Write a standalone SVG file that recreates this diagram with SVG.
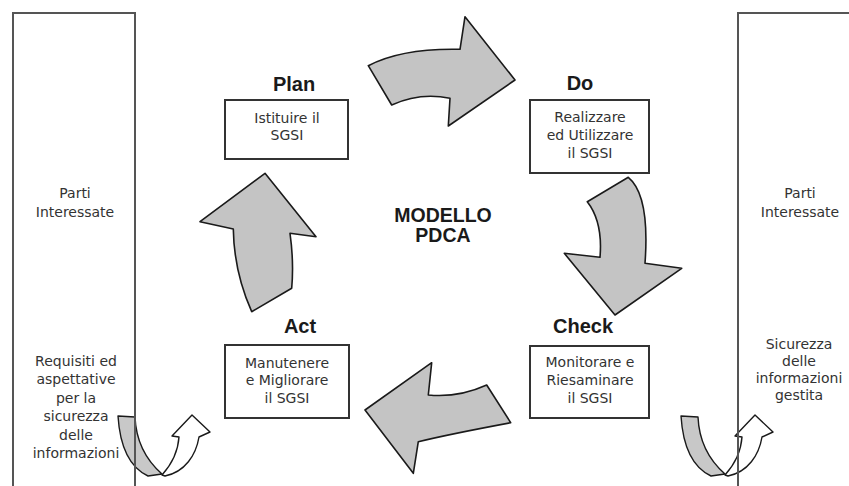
<svg xmlns="http://www.w3.org/2000/svg" width="849" height="486" viewBox="0 0 849 486">
<style>
.bg{fill:#ffffff}
.side{fill:none;stroke:#555;stroke-width:2}
.box{fill:#fff;stroke:#333;stroke-width:2}
.txt{font-family:"DejaVu Sans","Liberation Sans",sans-serif;font-size:14px;fill:#333;text-anchor:middle}
.lbl{font-family:"Liberation Sans",Arial,sans-serif;font-size:20px;font-weight:bold;fill:#1a1a1a;text-anchor:middle}
.big{fill:#c4c4c4;stroke:#1a1a1a;stroke-width:1.6;stroke-linejoin:round}
.ug{fill:#c8c8c8;stroke:#1a1a1a;stroke-width:1.4;stroke-linejoin:round}
.uw{fill:#fff;stroke:#1a1a1a;stroke-width:1.4;stroke-linejoin:round}
</style>
<defs>
<g id="uturn">
<path class="ug" d="M118,416 L135,417 C136,440 146,460 162,474 L148,476 C131,468 120,448 118,416 Z"/>
<path class="uw" d="M162,475 C171,465 178,452 179,437 L172,436 L192,415 L210,432 L199,437 C196,455 185,472 165,476 Z"/>
</g>
</defs>
<rect class="bg" x="0" y="0" width="849" height="486"/>
<g id="connectors">
<path class="big" d="M368.3,65.7 Q402,48 460,49.3 L465,16.7 L515,80 L448.3,126 L450,98.3 Q420,92 391.7,105 Z"/>
<path class="big" d="M628.3,177.3 Q650,195 645,263.3 L681.7,268.3 L615,315 L564.3,253.3 L600,257.3 Q603,222 587.3,201.7 Z"/>
<path class="big" d="M486.7,385 Q458,398 428.3,395 L431.7,362.7 L365,410 L413.3,473.3 L418.3,441.7 Q450,434 510.7,422.7 Z"/>
<path class="big" d="M251.7,311.7 Q234,272 233.3,229 L200,221.7 L265,173.3 L316,236.7 L290,233.3 Q294,262 291.7,288.3 Z"/>
<use href="#uturn"/>
<use href="#uturn" transform="translate(563,0)"/>
</g>
<g id="parti-sx">
<path class="side" d="M13,487 L13,13 L135,13 L135,487"/>
<text class="txt" x="75" y="198">Parti</text>
<text class="txt" x="75" y="217">Interessate</text>
<text class="txt" x="76" y="365.5">Requisiti ed</text>
<text class="txt" x="76" y="384">aspettative</text>
<text class="txt" x="76" y="402.5">per la</text>
<text class="txt" x="76" y="421">sicurezza</text>
<text class="txt" x="76" y="439.5">delle</text>
<text class="txt" x="76" y="458">informazioni</text>
</g>
<g id="parti-dx">
<path class="side" d="M850,13 L738,13 L738,487"/>
<text class="txt" x="800" y="198">Parti</text>
<text class="txt" x="800" y="217">Interessate</text>
<text class="txt" x="799" y="349">Sicurezza</text>
<text class="txt" x="799" y="366">delle</text>
<text class="txt" x="799" y="383">informazioni</text>
<text class="txt" x="799" y="400">gestita</text>
</g>
<g id="plan">
<text class="lbl" x="294" y="91">Plan</text>
<rect class="box" x="225" y="100" width="123" height="59"/>
<text class="txt" x="287" y="123">Istituire il</text>
<text class="txt" x="287" y="140">SGSI</text>
</g>
<g id="do">
<text class="lbl" x="580" y="90">Do</text>
<rect class="box" x="530" y="100" width="119" height="73"/>
<text class="txt" x="590" y="122">Realizzare</text>
<text class="txt" x="590" y="140">ed Utilizzare</text>
<text class="txt" x="590" y="158">il SGSI</text>
</g>
<g id="check">
<text class="lbl" x="583" y="333">Check</text>
<rect class="box" x="530" y="346" width="119" height="72"/>
<text class="txt" x="590" y="367">Monitorare e</text>
<text class="txt" x="590" y="385">Riesaminare</text>
<text class="txt" x="590" y="403">il SGSI</text>
</g>
<g id="act">
<text class="lbl" x="300" y="333">Act</text>
<rect class="box" x="225" y="345" width="124" height="73"/>
<text class="txt" x="287" y="368">Manutenere</text>
<text class="txt" x="287" y="385">e Migliorare</text>
<text class="txt" x="287" y="403">il SGSI</text>
</g>
<g id="modello">
<text class="lbl" x="443" y="222" style="font-size:19.5px">MODELLO</text>
<text class="lbl" x="443" y="242" style="font-size:19.5px">PDCA</text>
</g>
</svg>
